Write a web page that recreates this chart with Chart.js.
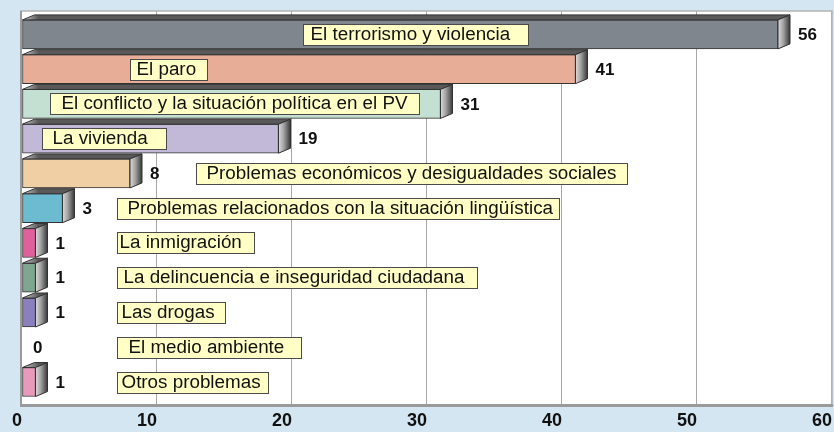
<!DOCTYPE html>
<html>
<head>
<meta charset="utf-8">
<script src="https://cdn.jsdelivr.net/npm/chart.js@4.4.1/dist/chart.umd.min.js"></script>
<style>
  html, body { margin: 0; padding: 0; background: #d5e6f3; }
  canvas { display: block; }
</style>
</head>
<body>
<canvas id="problemsChart" width="834" height="432"></canvas>
<script>
// data
var categories = [
    'El terrorismo y violencia',
    'El paro',
    'El conflicto y la situación política en el PV',
    'La vivienda',
    'Problemas económicos y desigualdades sociales',
    'Problemas relacionados con la situación lingüística',
    'La inmigración',
    'La delincuencia e inseguridad ciudadana',
    'Las drogas',
    'El medio ambiente',
    'Otros problemas'
];
var values = [56, 41, 31, 19, 8, 3, 1, 1, 1, 0, 1];
var axisMin = 0;
var axisMax = 60;
var axisStep = 10;

var barColors = ['#7f868e', '#e8ad97', '#c3e0d2', '#c2b9d9', '#f1cfa5', '#6cbbd0',
    '#e0609b', '#7fa78f', '#8b80bd', '#cccccc', '#e99aba'];

// label boxes: left / right edge in axis units, text indent in px
var labelBoxes = [
    [20.8, 37.5, 7], [8.0, 13.7, 6], [2.1, 29.4, 11], [1.5, 10.7, 10],
    [12.9, 44.8, 10], [7.0, 39.8, 10], [7.0, 17.2, 2], [7.0, 33.7, 6],
    [7.0, 15.0, 4], [7.0, 20.7, 11], [7.0, 18.2, 4]
];

var FONT = '"Liberation Sans", Arial, sans-serif';
var DEPTH_X = 12;
var DEPTH_Y = 5;
var TEXT_STRETCH = 1.045;

var bar3dPlugin = {
    id: 'bar3d',
    beforeDraw: function(chart) {
        var ctx = chart.ctx;
        var area = chart.chartArea;
        var xScale = chart.scales.x;
        var left = area.left - 1, right = area.right, top = area.top - 6, bottom = area.bottom + 6;

        ctx.save();
        ctx.fillStyle = '#d5e6f3';
        ctx.fillRect(0, 0, chart.width, chart.height);
        ctx.fillStyle = '#ffffff';
        ctx.fillRect(left, top, right - left, bottom - top);

        // grid lines
        ctx.strokeStyle = '#a8a8a8';
        ctx.lineWidth = 1;
        xScale.ticks.forEach(function(t) {
            var x = Math.round(xScale.getPixelForValue(t.value)) - 0.5;
            ctx.beginPath();
            ctx.moveTo(x, top);
            ctx.lineTo(x, bottom);
            ctx.stroke();
        });

        // frame
        ctx.strokeStyle = '#b4b4b4';
        ctx.lineWidth = 1.5;
        ctx.strokeRect(left, top, right - left, bottom - top);
        ctx.strokeStyle = '#9a9a9a';
        ctx.lineWidth = 2;
        ctx.beginPath();
        ctx.moveTo(left, top);
        ctx.lineTo(left, bottom);
        ctx.stroke();
        ctx.lineWidth = 3;
        ctx.beginPath();
        ctx.moveTo(left - 1, bottom);
        ctx.lineTo(right + 1, bottom);
        ctx.stroke();
        ctx.restore();
    },
    afterDatasetsDraw: function(chart) {
        var ctx = chart.ctx;
        var xScale = chart.scales.x;
        var meta = chart.getDatasetMeta(0);

        ctx.save();
        meta.data.forEach(function(bar, i) {
            var p = bar.getProps(['x', 'y', 'base', 'height'], true);
            var x0 = p.base, x1 = p.x;
            var yTop = p.y - p.height / 2, yBot = p.y + p.height / 2;

            if (values[i] > 0) {
                // top face
                ctx.beginPath();
                ctx.moveTo(x0, yTop);
                ctx.lineTo(x0 + DEPTH_X, yTop - DEPTH_Y);
                ctx.lineTo(x1 + DEPTH_X, yTop - DEPTH_Y);
                ctx.lineTo(x1, yTop);
                ctx.closePath();
                var tg = ctx.createLinearGradient(x0, 0, x0 + 16, 0);
                tg.addColorStop(0, '#d0d0d0');
                tg.addColorStop(1, '#595959');
                ctx.fillStyle = tg;
                ctx.fill();
                ctx.strokeStyle = '#333333';
                ctx.lineWidth = 1;
                ctx.stroke();

                // side face
                ctx.beginPath();
                ctx.moveTo(x1, yTop);
                ctx.lineTo(x1 + DEPTH_X, yTop - DEPTH_Y);
                ctx.lineTo(x1 + DEPTH_X, yBot - DEPTH_Y);
                ctx.lineTo(x1, yBot);
                ctx.closePath();
                var sg = ctx.createLinearGradient(x1, 0, x1 + DEPTH_X, 0);
                sg.addColorStop(0, '#dcdcdc');
                sg.addColorStop(0.45, '#a0a0a0');
                sg.addColorStop(1, '#383838');
                ctx.fillStyle = sg;
                ctx.fill();
                ctx.stroke();
            }

            // value label
            ctx.fillStyle = '#111111';
            ctx.font = 'bold 17px ' + FONT;
            ctx.textAlign = 'left';
            ctx.textBaseline = 'middle';
            ctx.fillText(String(values[i]), x1 + (values[i] > 0 ? 20 : 11), p.y + 1);

            // category label box
            var box = labelBoxes[i];
            var bx0 = Math.round(xScale.getPixelForValue(box[0])) + 0.5;
            var bx1 = Math.round(xScale.getPixelForValue(box[1])) + 0.5;
            var by0 = Math.round(p.y - 10.5) + 0.5;
            ctx.fillStyle = '#ffffc6';
            ctx.fillRect(bx0, by0, bx1 - bx0, 21);
            ctx.strokeStyle = '#4a4a4a';
            ctx.lineWidth = 1;
            ctx.strokeRect(bx0, by0, bx1 - bx0, 21);
            ctx.fillStyle = '#111111';
            ctx.font = '18px ' + FONT;
            ctx.save();
            ctx.translate(bx0 + box[2], by0 + 11);
            ctx.scale(TEXT_STRETCH, 1);
            ctx.fillText(categories[i], 0, 0);
            ctx.restore();
        });
        ctx.restore();
    }
};

var ctx = document.getElementById('problemsChart');
var myBarChart = new Chart(ctx, {
    type: 'bar',
    data: {
        labels: categories,
        datasets: [{
            data: values,
            backgroundColor: barColors,
            borderColor: '#333333',
            borderWidth: 1,
            borderSkipped: false,
            barThickness: 29
        }]
    },
    plugins: [bar3dPlugin],
    options: {
        indexAxis: 'y',
        responsive: false,
        animation: false,
        layout: { padding: { left: 22, right: 2, top: 17, bottom: 0 } },
        plugins: {
            legend: { display: false },
            tooltip: { enabled: false }
        },
        scales: {
            x: {
                min: axisMin,
                max: axisMax,
                grid: { display: true, drawOnChartArea: false, drawTicks: true, tickLength: 11, color: 'rgba(0,0,0,0)' },
                border: { display: false },
                ticks: {
                    stepSize: axisStep,
                    align: 'end',
                    padding: 0,
                    color: '#111111',
                    font: { family: FONT, size: 18, weight: 'bold' }
                }
            },
            y: {
                display: false
            }
        }
    }
});
</script>
</body>
</html>
